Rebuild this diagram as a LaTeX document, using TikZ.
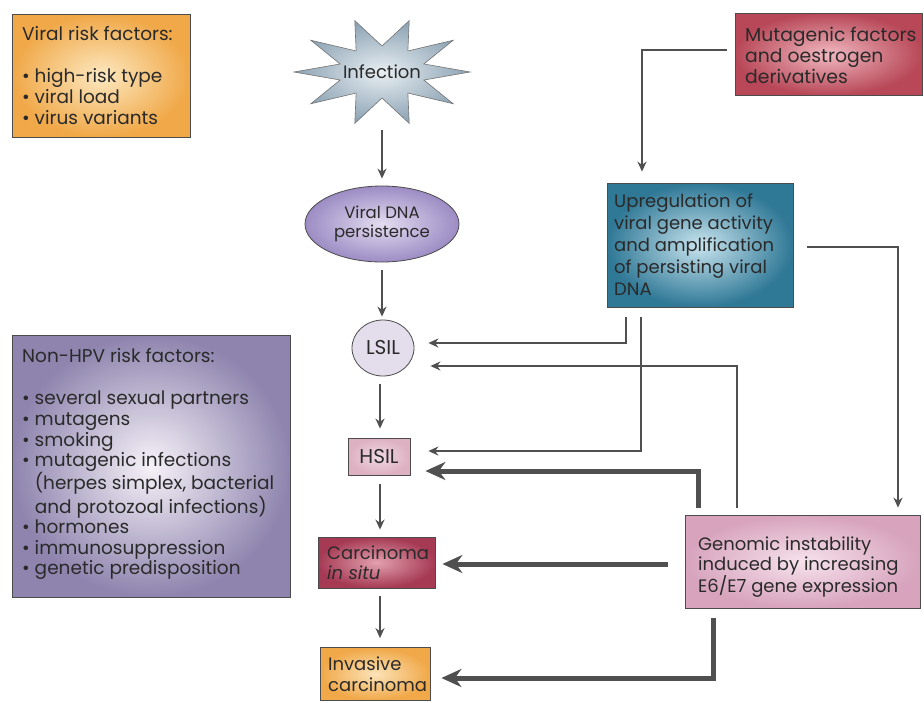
\documentclass[tikz,border=0pt]{standalone}
\usepackage{fontspec}
\setmainfont{Poppins}
\usetikzlibrary{arrows.meta,shapes.geometric,calc}
\definecolor{ink}{HTML}{2A2A2A}
\definecolor{lnc}{HTML}{505050}
\definecolor{vrout}{HTML}{F0A848}\definecolor{vrin}{HTML}{FCE8C0}
\definecolor{stout}{HTML}{8CA3B4}\definecolor{stin}{HTML}{E8EEF2}
\definecolor{dnaout}{HTML}{9C8CC4}\definecolor{dnain}{HTML}{E4DCF0}
\definecolor{lsilc}{HTML}{E4DDEC}
\definecolor{hsilout}{HTML}{DDB0C2}\definecolor{hsilin}{HTML}{F0D8E2}
\definecolor{caout}{HTML}{A63A55}\definecolor{cain}{HTML}{E2A0AE}
\definecolor{inout}{HTML}{F0A848}\definecolor{inin}{HTML}{FBE3B8}
\definecolor{muout}{HTML}{B84858}\definecolor{muin}{HTML}{F0B8C0}
\definecolor{upout}{HTML}{2F7896}\definecolor{upin}{HTML}{C8E4EE}
\definecolor{nhout}{HTML}{8E84AE}\definecolor{nhin}{HTML}{F6F2F8}
\definecolor{geout}{HTML}{D7A3BD}\definecolor{gein}{HTML}{F6E2EC}
\tikzset{
  txt/.style={font=\fontsize{15}{21}\selectfont, text=ink},
  box/.style={rectangle, draw=black!70, line width=0.8pt, inner sep=0pt},
  lbl/.style={txt, anchor=west, align=left, inner sep=0pt},
  arr/.style={draw=lnc, line width=2pt, -{Stealth[length=10pt,width=9pt]}},
  thickarr/.style={draw=lnc, line width=5pt, -{Stealth[length=20pt,width=18pt]}},
}
\begin{document}
\begin{tikzpicture}[x=1pt,y=-1pt]
\useasboundingbox (0,0) rectangle (924,702);
\fill[white] (0,0) rectangle (924,702);

% left boxes
\node[box, inner color=vrin, outer color=vrout, minimum width=178pt, minimum height=123pt] (vrf) at (101,75.5) {};
\node[lbl, font=\fontsize{18.5}{21}\selectfont] (vrft) at (22,75.5)
  {Viral risk factors:\\[21pt]•~high-risk type\\•~viral load\\•~virus variants};

\node[box, inner color=nhin, outer color=nhout, minimum width=278pt, minimum height=262pt] (nhpv) at (151,466) {};
\node[lbl, font=\fontsize{18.5}{20.6}\selectfont] (nhpvt) at (22,464)
  {Non-HPV risk factors:\\[22pt]•~several sexual partners\\•~mutagens\\•~smoking\\
   •~mutagenic infections\\\phantom{•~}(herpes simplex, bacterial\\
   \phantom{•~}and protozoal infections)\\•~hormones\\•~immunosuppression\\
   •~genetic predisposition};

% infection star
\path[draw=black!55, line width=0.6pt, inner color=stin, outer color=stout]
  (470,72) \foreach \i in {1,...,19}{
    -- ({382+(mod(\i,2)==0 ? 88 : 44)*cos(18*\i)}, {72-(mod(\i,2)==0 ? 54 : 26)*sin(18*\i)}) }
  -- cycle;
\node[txt, font=\fontsize{18}{21}\selectfont, minimum width=176pt, minimum height=106pt, inner sep=0pt] (inf) at (382,72) {Infection};

% main column
\node[ellipse, draw=black!70, line width=0.8pt, inner color=dnain, outer color=dnaout,
      minimum width=154pt, minimum height=76pt, inner sep=0pt, txt, align=center,
      font=\fontsize{16.5}{18.5}\selectfont] (dna) at (382,224)
  {Viral DNA\\persistence};
\node[ellipse, draw=black!70, line width=0.8pt, fill=lsilc, minimum width=62pt,
      minimum height=56pt, inner sep=0pt, txt, font=\fontsize{20}{21}\selectfont] (lsil) at (383,348) {LSIL};
\node[box, inner color=hsilin, outer color=hsilout, minimum width=62pt, minimum height=37pt,
      txt, font=\fontsize{20}{21}\selectfont] (hsil) at (379,456.5) {HSIL};
\node[box, inner color=cain, outer color=caout, minimum width=117pt, minimum height=51pt] (carc) at (376.5,562.5) {};
\node[lbl, font=\fontsize{18}{20}\selectfont] (carct) at (327,563) {Carcinoma\\\textit{in situ}};
\node[box, inner color=inin, outer color=inout, minimum width=110pt, minimum height=53pt] (inv) at (375,674) {};
\node[lbl, font=\fontsize{18}{21}\selectfont] (invt) at (328,674) {Invasive\\carcinoma};

% right boxes
\node[box, inner color=muin, outer color=muout, minimum width=187pt, minimum height=82pt] (mut) at (828.5,54) {};
\node[lbl, font=\fontsize{18.8}{21}\selectfont] (mutt) at (745,55) {Mutagenic factors\\and oestrogen\\derivatives};
\node[box, inner color=upin, outer color=upout, minimum width=186pt, minimum height=124pt] (upr) at (700,245) {};
\node[lbl, font=\fontsize{18}{22}\selectfont] (uprt) at (614,245)
  {Upregulation of\\viral gene activity\\and amplification\\of persisting viral\\DNA};
\node[box, inner color=gein, outer color=geout, minimum width=235pt, minimum height=93pt] (gen) at (802.5,561.5) {};
\node[lbl, font=\fontsize{18}{20}\selectfont] (gent) at (698,567)
  {Genomic instability\\induced by increasing\\E6/E7 gene expression};

% main column arrows
\draw[arr, shorten <=5pt, shorten >=7pt] (inf.south) -- (inf.south |- dna.north);
\draw[arr, shorten <=8pt, shorten >=3pt] (dna.south) -- (dna.south |- lsil.north);
\draw[arr, shorten <=8pt, shorten >=9pt] ([xshift=-3pt]lsil.south) -- ([xshift=-3pt]lsil.south |- hsil.north);
\draw[arr, shorten <=9pt, shorten >=7pt] ([xshift=1pt]hsil.south) -- ([xshift=1pt]hsil.south |- carc.north);
\draw[arr, shorten <=8pt, shorten >=9pt] ([xshift=3.5pt]carc.south) -- ([xshift=3.5pt]carc.south |- inv.north);

% right side connectors
\draw[arr, shorten <=8pt, shorten >=11pt] (mut.west |- 0,50) -| ([xshift=-58pt]upr.north);
\draw[arr, shorten <=14pt, shorten >=7pt] (upr.east |- 0,247) -| ([xshift=95.5pt]gen.north);
\draw[arr, shorten <=10pt, shorten >=14pt] ([xshift=-74pt]upr.south) |- ([yshift=5pt]lsil.east);
\draw[arr, shorten <=10pt, shorten >=18pt] ([xshift=-59pt]upr.south) |- ([yshift=5.5pt]hsil.east);
\draw[arr, shorten <=7pt, shorten >=16pt] ([xshift=-65.5pt]gen.north) |- ([yshift=-18pt]lsil.east);
\draw[thickarr, shorten <=7pt, shorten >=15pt] ([xshift=-104pt]gen.north) |- ([yshift=-14.5pt]hsil.east);
\draw[thickarr, shorten <=17pt, shorten >=7pt] (gen.west |- 0,564) -- (carc.east |- 0,564);
\draw[thickarr, shorten <=10pt, shorten >=11pt] ([xshift=-89.5pt]gen.south) |- (inv.east |- 0,678);
\end{tikzpicture}
\end{document}
